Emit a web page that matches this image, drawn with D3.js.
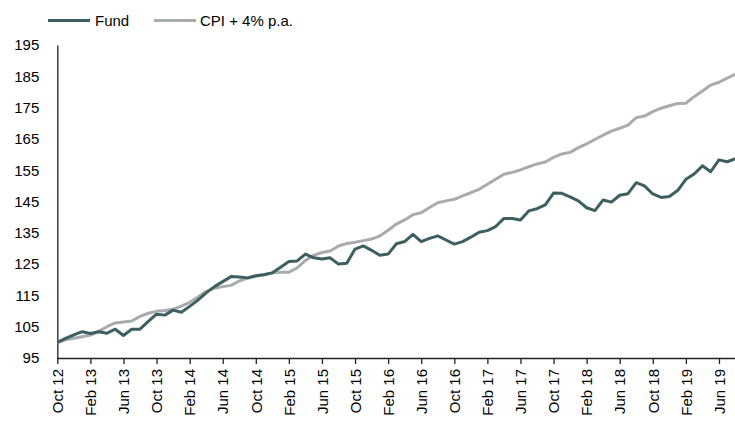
<!DOCTYPE html>
<html>
<head>
<meta charset="utf-8">
<script src="https://cdn.jsdelivr.net/npm/d3@7/dist/d3.min.js"></script>
<style>
  html, body { margin: 0; padding: 0; background: #fff; }
  svg { display: block; }
  text { font-family: "Liberation Sans", Arial, sans-serif; fill: #000; }
</style>
</head>
<body>
<svg id="chart" width="735" height="421"></svg>
<script>
// Monthly observations, Oct 12 .. Aug 19
const months = ["Jan","Feb","Mar","Apr","May","Jun","Jul","Aug","Sep","Oct","Nov","Dec"];
const startYear = 2012, startMonth = 9; // Oct 2012
const fund = [
  100, 101.3, 102.4, 103.4, 102.8, 103.4, 102.9, 104.2, 102.2, 104.2,
  104.2, 106.7, 109.0, 108.7, 110.3, 109.6, 111.5, 113.5, 115.8, 117.8,
  119.4, 121.0, 120.9, 120.6, 121.3, 121.6, 122.2, 124.0, 125.8, 126.0,
  128.2, 127.0, 126.6, 127.0, 125.0, 125.3, 129.8, 130.8, 129.4, 127.8,
  128.2, 131.5, 132.2, 134.5, 132.2, 133.2, 134.0, 132.7, 131.4, 132.2,
  133.6, 135.2, 135.7, 137.0, 139.6, 139.6, 139.1, 142.0, 142.7, 143.9,
  147.7, 147.6, 146.5, 145.2, 143.0, 142.1, 145.5, 144.8, 147.0, 147.5,
  151.0, 150.0, 147.4, 146.3, 146.6, 148.5, 152.1, 153.8, 156.4, 154.5,
  158.3, 157.7, 158.7
];
const cpi = [
  100, 100.8, 101.3, 101.8, 102.3, 103.5, 105.0, 106.2, 106.5, 106.8,
  108.3, 109.3, 109.9, 110.2, 110.6, 111.6, 112.8, 114.5, 116.3, 117.3,
  117.8, 118.2, 119.6, 120.5, 121.1, 121.7, 122.2, 122.4, 122.4, 123.8,
  126.2, 127.8, 128.7, 129.2, 130.8, 131.6, 132.0, 132.5, 133.0, 134.0,
  135.8, 137.8, 139.1, 140.8, 141.4, 143.1, 144.6, 145.2, 145.7, 146.8,
  147.8, 148.9, 150.5, 152.1, 153.7, 154.3, 155.1, 156.1, 157.0, 157.6,
  159.1, 160.2, 160.7, 162.2, 163.4, 164.8, 166.2, 167.5, 168.4, 169.4,
  171.8, 172.3, 173.7, 174.8, 175.6, 176.3, 176.4, 178.5, 180.3, 182.2,
  183.1, 184.4, 185.7
];
const yTicks = [95, 105, 115, 125, 135, 145, 155, 165, 175, 185, 195];
const seriesNames = ["Fund", "CPI + 4% p.a."];
const seriesColors = ["#3d5f62", "#a9acae"];

const labelOf = i => {
  const m = (startMonth + i) % 12;
  const y = startYear + Math.floor((startMonth + i) / 12);
  return months[m] + " " + String(y % 100).padStart(2, "0");
};
const idx = d3.range(fund.length);
const tickIdx = idx.filter(i => i % 4 === 0);

const svg = d3.select("#chart");
const x = d3.scaleLinear().domain([0, fund.length - 1]).range([57.3, 735.5]);
const y = d3.scaleLinear().domain([95, 195]).range([358, 45]);

// x axis
const xAxis = d3.axisBottom(x).tickValues(tickIdx).tickFormat(labelOf)
  .tickSize(6).tickSizeOuter(0);
const gx = svg.append("g").attr("transform", "translate(0,358)").call(xAxis);
gx.select(".domain").attr("stroke", "#222").attr("stroke-width", 1.3)
  .attr("d", "M57.3,0.5H735");
gx.selectAll(".tick line").attr("stroke", "#222").attr("stroke-width", 1.3);
gx.selectAll(".tick text")
  .attr("transform", "rotate(-90)")
  .attr("text-anchor", "end")
  .attr("x", -11).attr("y", 0).attr("dy", "0.35em")
  .style("font-size", "15px")
  .style("font-family", "'Liberation Sans', Arial, sans-serif")
  .attr("fill", "#000");

// y axis
const yAxis = d3.axisLeft(y).tickValues(yTicks).tickSize(0).tickPadding(18);
const gy = svg.append("g").attr("transform", "translate(57.3,0)").call(yAxis);
gy.select(".domain").attr("stroke", "#222").attr("stroke-width", 1.3);
gy.selectAll(".tick text")
  .style("font-size", "15px")
  .style("font-family", "'Liberation Sans', Arial, sans-serif")
  .attr("fill", "#000");

// lines
const line = d3.line().x((d, i) => x(i)).y(d => y(d));
svg.append("defs").append("clipPath").attr("id", "clip")
  .append("rect").attr("x", 0).attr("y", 0).attr("width", 735).attr("height", 421);
const lg = svg.append("g").attr("clip-path", "url(#clip)");
lg.append("path").datum(cpi).attr("d", line)
  .attr("fill", "none").attr("stroke", seriesColors[1]).attr("stroke-width", 3)
  .attr("stroke-linejoin", "round");
lg.append("path").datum(fund).attr("d", line)
  .attr("fill", "none").attr("stroke", seriesColors[0]).attr("stroke-width", 3)
  .attr("stroke-linejoin", "round");

// legend
const legendPos = [[48, 95], [154, 200]];
seriesNames.forEach((name, k) => {
  const [lx, tx] = legendPos[k];
  svg.append("line").attr("x1", lx).attr("x2", lx + 42).attr("y1", 20.5).attr("y2", 20.5)
    .attr("stroke", seriesColors[k]).attr("stroke-width", 3);
  svg.append("text").attr("x", tx).attr("y", 26)
    .style("font-size", "15px").text(name);
});
</script>
</body>
</html>
